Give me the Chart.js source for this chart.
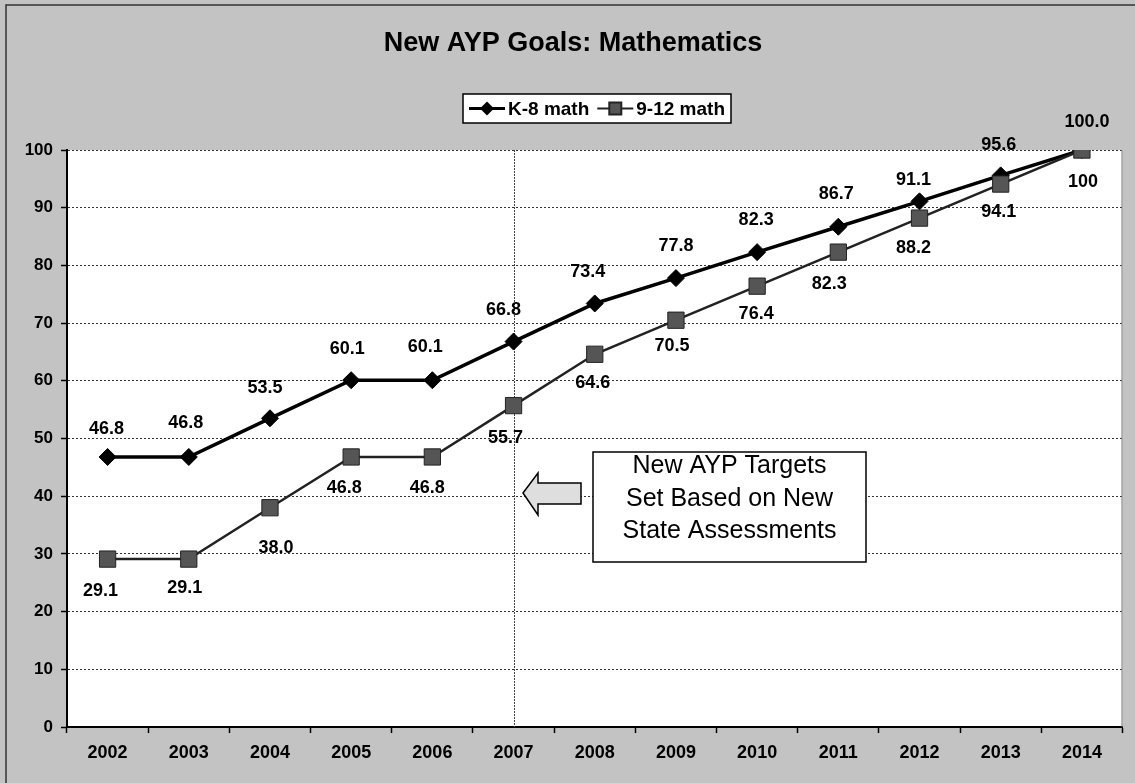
<!DOCTYPE html>
<html>
<head>
<meta charset="utf-8">
<title>New AYP Goals: Mathematics</title>
<script src="https://cdn.jsdelivr.net/npm/chart.js@4/dist/chart.umd.min.js"></script>
<style>
  html, body { margin: 0; padding: 0; background: #c3c3c3; }
  canvas { display: block; }
</style>
</head>
<body>
<canvas id="chart" width="1135" height="783"></canvas>
<script>
// chart data
const years = ['2002', '2003', '2004', '2005', '2006', '2007', '2008', '2009', '2010', '2011', '2012', '2013', '2014'];
const k8Math = [46.8, 46.8, 53.5, 60.1, 60.1, 66.8, 73.4, 77.8, 82.3, 86.7, 91.1, 95.6, 100.0];
const hsMath = [29.1, 29.1, 38.0, 46.8, 46.8, 55.7, 64.6, 70.5, 76.4, 82.3, 88.2, 94.1, 100];
const k8Labels = ['46.8', '46.8', '53.5', '60.1', '60.1', '66.8', '73.4', '77.8', '82.3', '86.7', '91.1', '95.6', '100.0'];
const hsLabels = ['29.1', '29.1', '38.0', '46.8', '46.8', '55.7', '64.6', '70.5', '76.4', '82.3', '88.2', '94.1', '100'];
const yTicks = [0, 10, 20, 30, 40, 50, 60, 70, 80, 90, 100];

const titleText = 'New AYP Goals: Mathematics';
const noteLines = ['New AYP Targets', 'Set Based on New', 'State Assessments'];
const markerYear = '2007';

// where the data labels sit relative to their point (hand placed in the original)
const k8LabelShift = [[-1, -28], [-3, -34], [-5, -30], [-4, -31], [-7, -33], [-10, -32], [-7, -31], [0, -32], [-1, -32], [-2, -33], [-6, -21], [-2, -30], [5, -28]];
const hsLabelShift = [[-7, 32], [-4, 29], [6, 40], [-7, 31], [-5, 31], [-8, 32], [-2, 29], [-4, 26], [-1, 28], [-9, 32], [-6, 30], [-2, 28], [1, 32]];

const FONT = '"Liberation Sans", Arial, sans-serif';

function drawDiamond(ctx, x, y, r) {
  ctx.beginPath();
  ctx.moveTo(x - r, y);
  ctx.lineTo(x, y - r);
  ctx.lineTo(x + r, y);
  ctx.lineTo(x, y + r);
  ctx.closePath();
  ctx.fill();
}

const decor = {
  id: 'decor',
  beforeDraw(chart) {
    const ctx = chart.ctx;
    const a = chart.chartArea;
    ctx.save();
    ctx.fillStyle = '#c3c3c3';
    ctx.fillRect(0, 0, chart.width, chart.height);
    // outer frame (only left and top edges show)
    ctx.strokeStyle = '#333';
    ctx.lineWidth = 1.5;
    ctx.beginPath();
    ctx.moveTo(6, chart.height);
    ctx.lineTo(6, 5);
    ctx.lineTo(chart.width, 5);
    ctx.stroke();
    // plot area
    ctx.fillStyle = '#fff';
    ctx.fillRect(a.left, a.top, a.right - a.left, a.bottom - a.top);

    // title
    ctx.fillStyle = '#000';
    ctx.font = 'bold 27px ' + FONT;
    ctx.textAlign = 'center';
    ctx.textBaseline = 'alphabetic';
    ctx.fillText(titleText, 573, 51);

    // legend
    ctx.font = 'bold 19px ' + FONT;
    ctx.textAlign = 'left';
    ctx.textBaseline = 'middle';
    const names = chart.data.datasets.map(d => d.label);
    const lineLen = 36, gap = 3, itemGap = 8, padX = 6;
    const w1 = ctx.measureText(names[0]).width;
    const w2 = ctx.measureText(names[1]).width;
    const total = padX + lineLen + gap + w1 + itemGap + lineLen + gap + w2 + padX;
    const bx = 597 - total / 2, by = 94, bh = 29, cy = by + bh / 2;
    ctx.fillStyle = '#fff';
    ctx.fillRect(bx, by, total, bh);
    ctx.strokeStyle = '#000';
    ctx.lineWidth = 1.5;
    ctx.strokeRect(bx, by, total, bh);
    let x = bx + padX;
    ctx.lineWidth = 3;
    ctx.beginPath(); ctx.moveTo(x, cy); ctx.lineTo(x + lineLen, cy); ctx.stroke();
    ctx.fillStyle = '#000';
    drawDiamond(ctx, x + lineLen / 2, cy, 7);
    x += lineLen + gap;
    ctx.fillText(names[0], x, cy + 1);
    x += w1 + itemGap;
    ctx.lineWidth = 2;
    ctx.strokeStyle = '#222';
    ctx.beginPath(); ctx.moveTo(x, cy); ctx.lineTo(x + lineLen, cy); ctx.stroke();
    ctx.fillStyle = '#555';
    ctx.fillRect(x + lineLen / 2 - 6, cy - 6, 12, 12);
    ctx.strokeRect(x + lineLen / 2 - 6, cy - 6, 12, 12);
    x += lineLen + gap;
    ctx.fillStyle = '#000';
    ctx.fillText(names[1], x, cy + 1);
    ctx.restore();
  },
  beforeDatasetsDraw(chart) {
    const ctx = chart.ctx;
    const a = chart.chartArea;
    const xs = chart.scales.x;
    ctx.save();
    // right edge of plot
    ctx.strokeStyle = '#777';
    ctx.lineWidth = 1;
    ctx.beginPath();
    ctx.moveTo(a.right - 0.5, a.top);
    ctx.lineTo(a.right - 0.5, a.bottom);
    ctx.stroke();
    // vertical marker at 2007
    const vx = Math.round(xs.getPixelForValue(years.indexOf(markerYear))) + 0.5;
    ctx.strokeStyle = '#444';
    ctx.setLineDash([2, 1]);
    ctx.beginPath();
    ctx.moveTo(vx, a.top);
    ctx.lineTo(vx, a.bottom);
    ctx.stroke();
    ctx.restore();
  },
  afterDatasetsDraw(chart) {
    const ctx = chart.ctx;
    ctx.save();
    // data labels
    ctx.font = 'bold 18px ' + FONT;
    ctx.fillStyle = '#000';
    ctx.textAlign = 'center';
    ctx.textBaseline = 'middle';
    const sets = [[0, k8Labels, k8LabelShift], [1, hsLabels, hsLabelShift]];
    sets.forEach(([di, labels, shift]) => {
      chart.getDatasetMeta(di).data.forEach((pt, i) => {
        ctx.fillText(labels[i], pt.x + shift[i][0], pt.y + shift[i][1]);
      });
    });

    // note box
    const bx = 593, by = 452, bw = 273, bh = 110;
    ctx.fillStyle = '#fff';
    ctx.fillRect(bx, by, bw, bh);
    ctx.strokeStyle = '#000';
    ctx.lineWidth = 1.5;
    ctx.strokeRect(bx, by, bw, bh);
    ctx.fillStyle = '#000';
    ctx.font = '25px ' + FONT;
    ctx.textBaseline = 'alphabetic';
    noteLines.forEach((t, i) => ctx.fillText(t, bx + bw / 2, 473 + i * 32.5));

    // arrow pointing left at the 2007 line
    ctx.beginPath();
    ctx.moveTo(523, 493);
    ctx.lineTo(538, 473);
    ctx.lineTo(538, 483);
    ctx.lineTo(581, 483);
    ctx.lineTo(581, 504);
    ctx.lineTo(538, 504);
    ctx.lineTo(538, 515);
    ctx.closePath();
    ctx.fillStyle = '#dedede';
    ctx.fill();
    ctx.strokeStyle = '#000';
    ctx.lineWidth = 1.5;
    ctx.stroke();
    ctx.restore();
  }
};

new Chart(document.getElementById('chart'), {
  type: 'line',
  data: {
    labels: years,
    datasets: [
      {
        label: 'K-8 math',
        data: k8Math,
        order: 1,
        borderColor: '#000',
        borderWidth: 3.5,
        pointStyle: 'rectRot',
        pointRadius: 8.5,
        pointBackgroundColor: '#000',
        pointBorderColor: '#000',
        pointBorderWidth: 1,
        tension: 0
      },
      {
        label: '9-12 math',
        data: hsMath,
        order: 0,
        borderColor: '#222',
        borderWidth: 2.5,
        pointStyle: 'rect',
        pointRadius: 11.5,
        pointBackgroundColor: '#555',
        pointBorderColor: '#222',
        pointBorderWidth: 1,
        tension: 0
      }
    ]
  },
  options: {
    responsive: false,
    animation: false,
    events: [],
    layout: { padding: { top: 150, right: 10, left: 0, bottom: 0 } },
    plugins: {
      legend: { display: false },
      title: { display: false },
      tooltip: { enabled: false }
    },
    scales: {
      x: {
        type: 'category',
        offset: true,
        afterFit(scale) { scale.height = 56; },
        grid: {
          offset: true,
          drawOnChartArea: false,
          drawTicks: true,
          tickLength: 6,
          tickColor: '#000',
          tickWidth: 1.5
        },
        border: { display: true, color: '#000', width: 2 },
        ticks: {
          color: '#000',
          padding: 9,
          maxRotation: 0,
          font: { family: FONT, size: 18, weight: 'bold' }
        }
      },
      y: {
        min: 0,
        max: 100,
        afterFit(scale) { scale.width = 67; },
        afterBuildTicks(scale) { scale.ticks = yTicks.map(v => ({ value: v })); },
        grid: {
          color: '#333',
          lineWidth: 1,
          drawTicks: true,
          tickLength: 6,
          tickColor: '#000',
          tickWidth: 1.5,
          tickBorderDash: []
        },
        border: { display: true, color: '#000', width: 2, dash: [2, 2] },
        ticks: {
          color: '#000',
          padding: 8,
          font: { family: FONT, size: 17, weight: 'bold' }
        }
      }
    }
  },
  plugins: [decor]
});
</script>
</body>
</html>
